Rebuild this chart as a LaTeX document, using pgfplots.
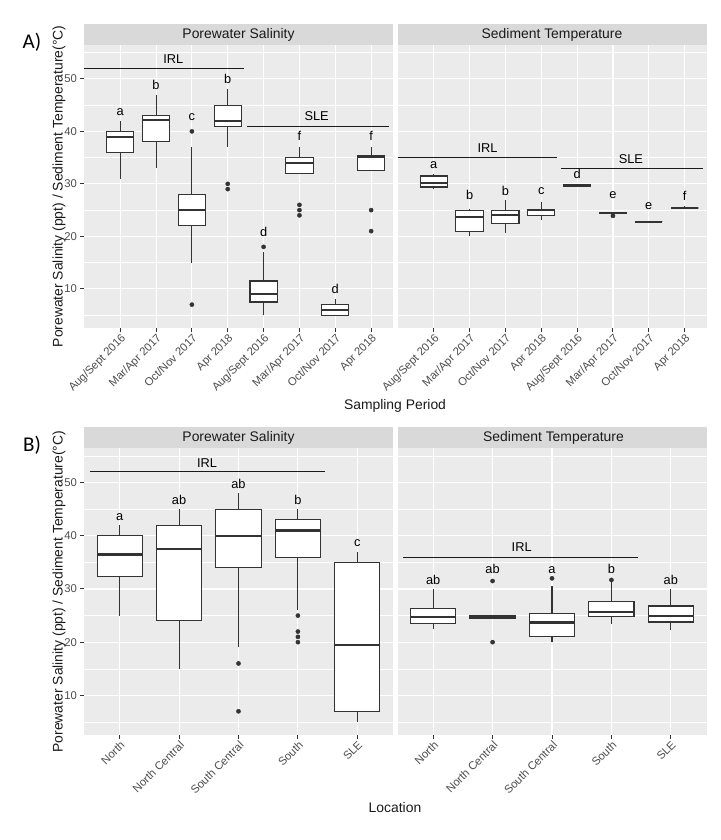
\documentclass[border=0pt]{standalone}
\usepackage{fontspec}
\setmainfont{Liberation Sans}
\newfontfamily\calibri{Carlito}
\usepackage{pgfplots}
\pgfplotsset{compat=1.18}
\usepgfplotslibrary{statistics}
\definecolor{panelbg}{HTML}{EBEBEB}
\definecolor{stripbg}{HTML}{D9D9D9}
\definecolor{gtwenty}{HTML}{333333}
\definecolor{gthirty}{HTML}{4D4D4D}
\definecolor{gten}{HTML}{1A1A1A}

\newcommand{\bp}[6]{\addplot[draw=gtwenty, fill=white, line width=1.1pt,
  boxplot prepared={draw position=#1, lower whisker=#2, lower quartile=#3,
  median=#4, upper quartile=#5, upper whisker=#6}] coordinates {};}
\newcommand{\lab}[3]{\node[font=\fontsize{12.8}{14}\selectfont, text=black] at (axis cs:#1,#2) {#3};}

\pgfplotsset{
 facet/.style={
  scale only axis, width=309pt,
  ymin=2.55, ymax=56.45,
  axis background/.style={fill=panelbg},
  axis line style={draw=none},
  grid=both,
  major grid style={white, line width=1.1pt},
  minor grid style={white, line width=0.55pt},
  ytick={10,20,30,40,50},
  minor ytick={5,15,25,35,45,55},
  minor tick length=0pt,
  major tick length=3.6pt,
  tick align=outside,
  tick pos=left,
  tick style={gtwenty, line width=1pt},
  ticklabel style={font=\fontsize{11.3}{13}\selectfont, text=gthirty},
  /pgf/number format/assume math mode=true,
  xticklabel style={rotate=45, anchor=north east, inner sep=1pt},
  boxplot/draw direction=y,
  boxplot/box extend=0.76,
  boxplot/whisker extend=0,
  boxplot/every median/.style={line width=2.2pt},
 },
 rightpanel/.style={yticklabels={}, ytick style={draw=none}},
 periodA/.style={xmin=-0.01, xmax=8.61, xtick={1,...,8}, height=283pt,
  xticklabels={Aug/Sept 2016, Mar/Apr 2017, Oct/Nov 2017, Apr 2018, Aug/Sept 2016, Mar/Apr 2017, Oct/Nov 2017, Apr 2018}},
 locB/.style={xmin=0.4, xmax=5.6, xtick={1,...,5}, height=286.7pt,
  xticklabels={North, North Central, South Central, South, SLE}},
}

\begin{document}
\begin{tikzpicture}
\path[use as bounding box] (0,0) rectangle (720pt,840pt);

% ---------- A left: Porewater Salinity by period
\begin{axis}[facet, periodA, at={(84pt,512pt)}, anchor=south west]
\bp{1}{31}{36}{39}{40}{42}
\bp{2}{33}{38}{42.1}{43}{47}
\bp{3}{15}{22}{25}{28}{37}
\bp{4}{37}{41}{42}{45}{48}
\bp{5}{5}{7.5}{9}{11.5}{17}
\bp{6}{32}{32}{34}{35}{37}
\bp{7}{5}{5}{6}{7}{8}
\bp{8}{32.5}{32.5}{35.1}{35.3}{37}
\addplot[only marks, mark=*, mark size=2.1pt, gtwenty] coordinates {
 (3,40) (3,7) (4,30) (4,29) (5,18) (6,26) (6,25) (6,24) (8,25) (8,21)};
\addplot[gten, line width=1pt] coordinates {(-0.01,52) (4.45,52)};
\addplot[gten, line width=1pt] coordinates {(4.55,41) (8.5,41)};
\lab{2.48}{53.7}{IRL}
\lab{6.48}{42.9}{SLE}
\lab{1}{43.7}{a}
\lab{2}{48.9}{b}
\lab{3}{42.8}{c}
\lab{4}{49.9}{b}
\lab{5}{20.9}{d}
\lab{6}{39.1}{f}
\lab{7}{9.9}{d}
\lab{8}{39.1}{f}
\end{axis}

% ---------- A right: Sediment Temperature by period
\begin{axis}[facet, periodA, rightpanel, at={(397.5pt,512pt)}, anchor=south west]
\bp{1}{29}{29.4}{30.1}{31.5}{31.9}
\bp{2}{20.1}{20.9}{23.7}{24.9}{25.3}
\bp{3}{20.7}{22.4}{24.1}{24.9}{27}
\bp{4}{23.1}{23.9}{25}{25.2}{26.5}
\bp{5}{29.7}{29.7}{29.7}{29.7}{29.7}
\bp{6}{24.4}{24.4}{24.4}{24.4}{24.4}
\bp{7}{22.5}{22.8}{22.8}{22.8}{22.8}
\bp{8}{25.4}{25.4}{25.4}{25.4}{25.7}
\addplot[only marks, mark=*, mark size=2.1pt, gtwenty] coordinates {(6,23.9)};
\addplot[gten, line width=1pt] coordinates {(-0.01,35.1) (4.45,35.1)};
\addplot[gten, line width=1pt] coordinates {(4.55,33) (8.5,33)};
\lab{2.5}{36.8}{IRL}
\lab{6.5}{34.7}{SLE}
\lab{1}{33.6}{a}
\lab{2}{27.8}{b}
\lab{3}{28.7}{b}
\lab{4}{28.7}{c}
\lab{5}{31.8}{d}
\lab{6}{27.8}{e}
\lab{7}{25.7}{e}
\lab{8}{27.8}{f}
\end{axis}

% ---------- B left: Porewater Salinity by location
\begin{axis}[facet, locB, at={(84pt,105pt)}, anchor=south west]
\bp{1}{25}{32.3}{36.5}{40}{42}
\bp{2}{15}{24}{37.5}{42}{45}
\bp{3}{19}{34}{40}{45}{48}
\bp{4}{26}{36}{41}{43}{45}
\bp{5}{5}{7}{19.5}{35}{37}
\addplot[only marks, mark=*, mark size=2.1pt, gtwenty] coordinates {
 (3,16) (3,7) (4,25) (4,22) (4,21) (4,20)};
\addplot[gten, line width=1pt] coordinates {(0.5,52) (4.45,52)};
\lab{2.47}{53.7}{IRL}
\lab{1}{43.6}{a}
\lab{2}{46.7}{ab}
\lab{3}{49.8}{ab}
\lab{4}{46.7}{b}
\lab{5}{38.7}{c}
\end{axis}

% ---------- B right: Sediment Temperature by location
\begin{axis}[facet, locB, rightpanel, at={(397.5pt,105pt)}, anchor=south west]
\bp{1}{22.5}{23.5}{24.7}{26.4}{30}
\bp{2}{24.4}{24.4}{24.8}{25.1}{25.1}
\bp{3}{20}{21}{23.7}{25.4}{30.5}
\bp{4}{23.5}{24.9}{25.7}{27.6}{31.5}
\bp{5}{22.3}{23.8}{24.9}{26.8}{30}
\addplot[only marks, mark=*, mark size=2.1pt, gtwenty] coordinates {
 (2,31.5) (2,20) (3,32) (4,31.7)};
\addplot[gten, line width=1pt] coordinates {(0.5,36) (4.45,36)};
\lab{2.49}{37.8}{IRL}
\lab{1}{31.7}{ab}
\lab{2}{33.7}{ab}
\lab{3}{33.5}{a}
\lab{4}{33.7}{b}
\lab{5}{31.7}{ab}
\end{axis}

% ---------- strips (facet headers)
\fill[stripbg] (84pt,795pt) rectangle (393pt,816pt);
\fill[stripbg] (397.5pt,795pt) rectangle (706.5pt,816pt);
\fill[stripbg] (84pt,391.7pt) rectangle (393pt,413.3pt);
\fill[stripbg] (397.5pt,391.7pt) rectangle (706.5pt,413.3pt);
\begin{scope}[every node/.style={font=\fontsize{13.9}{16}\selectfont, text=gten}]
\node at (238.5pt,805.5pt) {Porewater Salinity};
\node at (552pt,805.5pt) {Sediment Temperature};
\node at (238.5pt,402.5pt) {Porewater Salinity};
\node at (553.5pt,402.5pt) {Sediment Temperature};
\node at (395pt,434pt) {Sampling Period};
\node at (395pt,32pt) {Location};
\node[rotate=90] at (59pt,653.5pt) {Porewater Salinity (ppt) / Sediment Temperature(°C)};
\node[rotate=90] at (59pt,248.3pt) {Porewater Salinity (ppt) / Sediment Temperature(°C)};
\end{scope}
\node[font=\calibri\fontsize{21}{24}\selectfont] at (32pt,798pt) {A)};
\node[font=\calibri\fontsize{21}{24}\selectfont] at (32pt,395pt) {B)};
\end{tikzpicture}
\end{document}
